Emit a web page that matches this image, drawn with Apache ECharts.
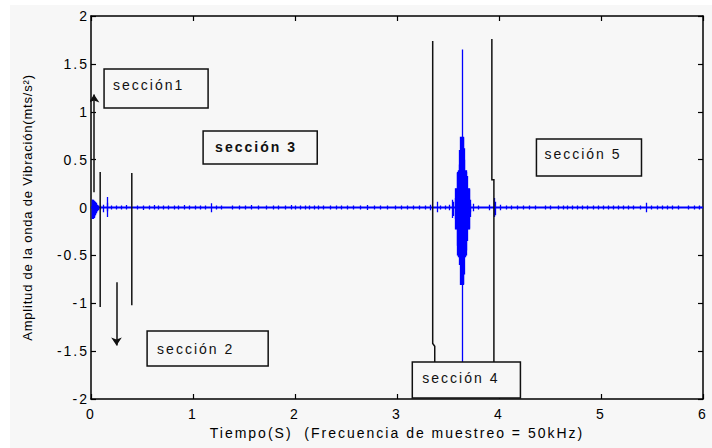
<!DOCTYPE html>
<html><head><meta charset="utf-8">
<script src="https://cdn.jsdelivr.net/npm/echarts@6/dist/echarts.min.js"></script>
<style>
html,body{margin:0;padding:0;background:#ffffff;}
#chart{position:absolute;left:10px;top:5px;width:702px;height:443px;}
#chart text{letter-spacing:2px;}
</style></head><body><div id="chart"></div>
<script>
// ---- tick labels / titles ----
const xTickLabels = ['0','1','2','3','4','5','6'];
const yTickLabels = ['-2','-1.5','-1','-0.5','0','0.5','1','1.5','2'];
const xTitle = 'Tiempo(S)  (Frecuencia de muestreo = 50kHz)';
const yTitle = 'Amplitud de la onda de Vibración(mts/s²)';
const sectionLabels = ['sección1','sección 2','sección 3','sección 4','sección 5'];

// ---- signal (time s, amplitude m/s²) ----
const baseline = [[0,0],[6,0]];
// vertical excursions: [time, max, min]
const onsetStrokes = [
  [0.008,0.08,-0.12],[0.012,0.07,-0.12],[0.016,0.08,-0.11],[0.02,0.07,-0.12],[0.024,0.08,-0.1],
  [0.028,0.06,-0.11],[0.032,0.07,-0.09],[0.036,0.05,-0.1],[0.04,0.06,-0.08],[0.045,0.04,-0.07],
  [0.05,0.05,-0.06],[0.055,0.03,-0.05],[0.06,0.03,-0.04],[0.07,0.02,-0.03],[0.09,0.02,-0.02],
  [0.12,0.03,-0.05],[0.155,0.11,-0.1],[0.16,0.05,-0.04],[0.2,0.02,-0.02]
];
const noiseStrokes = [
  [0.25,0.02,-0.02],[0.3,0.02,-0.02],[0.35,0.025,-0.02],[0.45,0.02,-0.02],[0.51,0.02,-0.025],
  [0.57,0.02,-0.02],[0.62,0.025,-0.02],[0.66,0.02,-0.02],[0.71,0.02,-0.02],[0.76,0.02,-0.02],
  [0.82,0.02,-0.02],[0.86,0.02,-0.02],[0.91,0.025,-0.02],[0.96,0.02,-0.02],[1.02,0.02,-0.02],
  [1.07,0.02,-0.02],[1.12,0.02,-0.02],[1.18,0.045,-0.05],[1.23,0.02,-0.02],[1.28,0.02,-0.02],
  [1.38,0.02,-0.02],[1.45,0.02,-0.02],[1.51,0.02,-0.02],[1.57,0.025,-0.02],[1.64,0.02,-0.02],
  [1.72,0.02,-0.02],[1.79,0.02,-0.02],[1.84,0.02,-0.02],[1.9,0.02,-0.02],[1.96,0.025,-0.02],
  [2.0,0.02,-0.02],[2.05,0.02,-0.02],[2.1,0.02,-0.02],[2.14,0.02,-0.02],[2.19,0.02,-0.02],
  [2.23,0.02,-0.02],[2.28,0.02,-0.02],[2.35,0.02,-0.02],[2.4,0.02,-0.02],[2.45,0.02,-0.02],
  [2.51,0.02,-0.02],[2.57,0.02,-0.02],[2.64,0.02,-0.02],[2.71,0.025,-0.025],[2.78,0.02,-0.02],
  [2.84,0.02,-0.02],[2.9,0.02,-0.02],[2.98,0.02,-0.02],[3.04,0.02,-0.02],[3.1,0.02,-0.02],
  [3.16,0.02,-0.02],[3.22,0.02,-0.02],[3.28,0.02,-0.02],[3.33,0.03,-0.03],[3.39,0.06,-0.05],
  [3.42,0.02,-0.02],[3.47,0.02,-0.02],[3.51,0.03,-0.03],[3.545,0.08,-0.11],[3.55,0.06,-0.09],
  [3.75,0.04,-0.04],[3.8,0.02,-0.02],[3.9,0.03,-0.03],[3.955,0.1,-0.1],[3.965,0.06,-0.08],
  [4.01,0.03,-0.03],[4.07,0.02,-0.02],[4.12,0.02,-0.02],[4.18,0.02,-0.02],[4.24,0.02,-0.02],
  [4.3,0.02,-0.02],[4.36,0.02,-0.02],[4.45,0.02,-0.02],[4.5,0.02,-0.02],[4.58,0.02,-0.02],
  [4.63,0.02,-0.02],[4.67,0.02,-0.02],[4.72,0.02,-0.02],[4.77,0.02,-0.02],[4.82,0.02,-0.02],
  [4.87,0.02,-0.02],[4.92,0.02,-0.02],[4.97,0.02,-0.02],[5.02,0.02,-0.02],[5.07,0.02,-0.02],
  [5.12,0.02,-0.02],[5.17,0.02,-0.02],[5.22,0.02,-0.02],[5.27,0.02,-0.02],[5.32,0.02,-0.02],
  [5.38,0.02,-0.02],[5.44,0.05,-0.05],[5.49,0.02,-0.02],[5.55,0.02,-0.02],[5.6,0.02,-0.02],
  [5.65,0.02,-0.02],[5.7,0.02,-0.02],[5.76,0.02,-0.02],[5.86,0.02,-0.02],[5.91,0.02,-0.02],
  [5.96,0.02,-0.02]
];
const eventStrokes = [
  [3.57,0.1,-0.12],[3.575,0.2,-0.23],[3.58,0.19,-0.22],[3.585,0.2,-0.23],[3.59,0.36,-0.4],
  [3.595,0.37,-0.5],[3.6,0.39,-0.51],[3.605,0.38,-0.52],[3.61,0.45,-0.52],[3.615,0.6,-0.6],
  [3.62,0.74,-0.81],[3.625,0.73,-0.8],[3.63,0.74,-0.81],[3.635,0.72,-0.8],[3.64,1.65,-1.85],
  [3.645,0.73,-0.81],[3.65,0.74,-0.8],[3.655,0.62,-0.7],[3.66,0.5,-0.52],[3.665,0.39,-0.51],
  [3.67,0.38,-0.52],[3.675,0.39,-0.5],[3.68,0.37,-0.45],[3.685,0.33,-0.35],[3.69,0.2,-0.23],
  [3.695,0.19,-0.22],[3.7,0.2,-0.23],[3.705,0.2,-0.22],[3.71,0.19,-0.23],[3.715,0.08,-0.1],
  [3.72,0.04,-0.05]
];

// ---- section divider lines and arrows (time, amplitude) ----
const dividerLines = [
  [[0.09,0.37],[0.09,-1.04]],
  [[0.40,0.36],[0.40,-1.02]],
  [[3.35,1.74],[3.35,-1.42],[3.37,-1.45],[3.37,-1.70]],
  [[3.93,1.76],[3.93,0.29],[3.95,0.29],[3.95,-1.73]]
];
const arrowLines = [
  [[0.03,0.16],[0.03,1.18]],
  [[0.25,-0.78],[0.25,-1.44]]
];
// label boxes: [t0, v0, t1, v1] corners
const sectionBoxes = [
  [0.128,1.446,1.148,1.039],
  [0.550,-1.290,1.737,-1.655],
  [1.099,0.799,2.218,0.454],
  [3.150,-1.614,4.210,-1.990],
  [4.367,0.715,5.397,0.329]
];

const chart = echarts.init(document.getElementById('chart'), null, {renderer:'svg'});
const FONT = '"Liberation Sans", Arial, Helvetica, sans-serif';
const axisCommon = {
  axisLine:{show:true, onZero:false, lineStyle:{color:'#000', width:1.5}},
  axisTick:{show:true, inside:true, length:5, lineStyle:{color:'#000', width:1.2}},
  splitLine:{show:false}
};
const xVals = xTickLabels.map(Number), yVals = yTickLabels.map(Number);
const xAxisBase = Object.assign({type:'value', min:xVals[0], max:xVals[xVals.length-1], interval:xVals[1]-xVals[0]}, axisCommon);
const yAxisBase = Object.assign({type:'value', min:yVals[0], max:yVals[yVals.length-1], interval:yVals[1]-yVals[0]}, axisCommon);

const strokeData = s => ({coords:[[s[0],s[1]],[s[0],s[2]]]});
const blue = '#0000ff';

chart.setOption({
  animation:false,
  backgroundColor:'#f7f7f7',
  grid:{left:81, right:9, top:11, bottom:49, containLabel:false},
  xAxis:[
    Object.assign({}, xAxisBase, {position:'bottom',
      axisLabel:{color:'#000', fontSize:14, fontFamily:FONT, margin:8,
        formatter:v=>xTickLabels[xVals.indexOf(v)] ?? ''},
      name:xTitle, nameLocation:'middle', nameGap:26,
      nameTextStyle:{color:'#000', fontSize:14, fontFamily:FONT}}),
    Object.assign({}, xAxisBase, {position:'top', axisLabel:{show:false}})
  ],
  yAxis:[
    Object.assign({}, yAxisBase, {position:'left',
      axisLabel:{color:'#000', fontSize:14, fontFamily:FONT, margin:2,
        formatter:v=>yTickLabels[yVals.indexOf(v)] ?? ''},
      name:yTitle, nameLocation:'middle', nameGap:57,
      nameTextStyle:{color:'#000', fontSize:13, fontFamily:FONT}}),
    Object.assign({}, yAxisBase, {position:'right', axisLabel:{show:false}})
  ],
  series:[
    {type:'line', data:baseline, symbol:'none', silent:true, z:3,
      lineStyle:{color:blue, width:2}},
    {type:'lines', coordinateSystem:'cartesian2d', silent:true, z:3,
      data:onsetStrokes.concat(noiseStrokes, eventStrokes).map(strokeData),
      lineStyle:{color:blue, width:1.3, opacity:1}},
    {type:'lines', coordinateSystem:'cartesian2d', polyline:true, silent:true, z:4,
      data:dividerLines.map(c=>({coords:c})),
      lineStyle:{color:'#111', width:1.5, opacity:1}},
    {type:'lines', coordinateSystem:'cartesian2d', silent:true, z:4,
      symbol:['none','arrow'], symbolSize:8,
      data:arrowLines.map(c=>({coords:c})),
      lineStyle:{color:'#111', width:1.5, opacity:1}}
  ]
});

// annotation boxes positioned through the axis scales
const textPad = [[9,-4],[10,1],[12,-1],[10,-2],[8,-3.5]];
const graphics = [];
sectionBoxes.forEach((b,i)=>{
  const p0 = chart.convertToPixel({gridIndex:0}, [b[0],b[1]]);
  const p1 = chart.convertToPixel({gridIndex:0}, [b[2],b[3]]);
  graphics.push({type:'rect', z:100, shape:{x:p0[0], y:p0[1], width:p1[0]-p0[0], height:p1[1]-p0[1]},
    style:{fill:'#f7f7f7', stroke:'#111', lineWidth:1.5}});
  graphics.push({type:'text', z:101, x:p0[0]+textPad[i][0], y:(p0[1]+p1[1])/2+textPad[i][1],
    style:{text:sectionLabels[i], fill:'#111', font:(i===2?'bold ':'')+'14px '+FONT,
      textVerticalAlign:'middle', textAlign:'left'}});
});
chart.setOption({graphic:graphics});

document.querySelectorAll('#chart svg text').forEach(t=>{
  if (t.textContent === yTitle) t.style.letterSpacing = '0.8px';
});
</script></body></html>
